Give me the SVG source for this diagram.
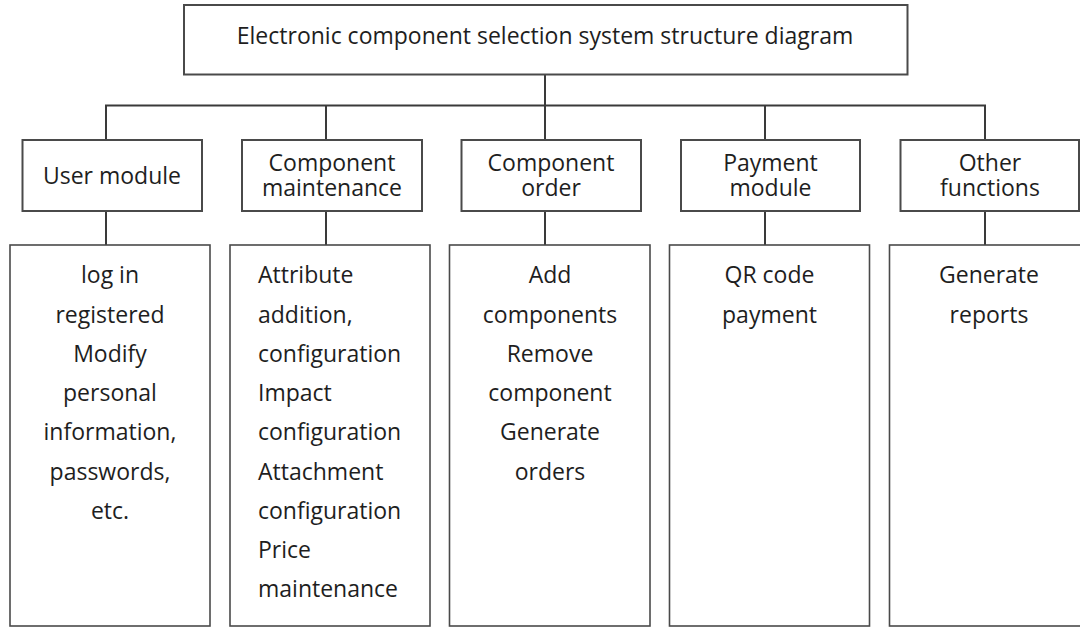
<svg xmlns="http://www.w3.org/2000/svg" width="1080" height="627" viewBox="0 0 1080 627">
<style>
.box{fill:#fff;stroke:#4a4a4a;stroke-width:2}
.sub{fill:#fff;stroke:#4a4a4a;stroke-width:1.6}
.con{fill:none;stroke:#3a3a3a;stroke-width:2}
text{font-family:"Open Sans","Noto Sans","Liberation Sans",sans-serif;fill:#1e1e1e}
.t{font-size:23px;text-anchor:middle}
.h{font-size:23px;text-anchor:middle}
.b{font-size:23px;text-anchor:middle}
.bl{font-size:23px;text-anchor:start}
</style>
<rect width="1080" height="627" fill="#fff"/>
<g id="connectors">
<path class="con" d="M545,75 V105.5 M106,140 V105.5 H985 V140 M326,105.5 V140 M545,105.5 V140 M765,105.5 V140"/>
<path class="con" d="M106,211 V245 M326,211 V245 M545,211 V245 M765,211 V245 M985,211 V245"/>
</g>
<g id="root">
<rect class="box" x="184" y="5" width="723.5" height="69.5"/>
<text class="t" x="545" y="44">Electronic component selection system structure diagram</text>
</g>
<g id="user-module">
<rect class="box" x="22.5" y="140" width="179.5" height="71"/>
<text class="h" x="112" y="184">User module</text>
</g>
<g id="component-maintenance">
<rect class="box" x="242" y="140" width="180" height="71"/>
<text class="h" x="332" y="171">Component</text>
<text class="h" x="332" y="196">maintenance</text>
</g>
<g id="component-order">
<rect class="box" x="461.5" y="140" width="179.5" height="71"/>
<text class="h" x="551" y="171">Component</text>
<text class="h" x="551" y="196">order</text>
</g>
<g id="payment-module">
<rect class="box" x="681" y="140" width="179" height="71"/>
<text class="h" x="770.5" y="171">Payment</text>
<text class="h" x="770.5" y="196">module</text>
</g>
<g id="other-functions">
<rect class="box" x="900.5" y="140" width="178.5" height="71"/>
<text class="h" x="990" y="171">Other</text>
<text class="h" x="990" y="196">functions</text>
</g>
<g id="user-details">
<rect class="sub" x="10" y="245" width="200" height="381"/>
<text class="b" x="110" y="283">log in</text>
<text class="b" x="110" y="322.5">registered</text>
<text class="b" x="110" y="361.5">Modify</text>
<text class="b" x="110" y="401">personal</text>
<text class="b" x="110" y="440">information,</text>
<text class="b" x="110" y="479.5">passwords,</text>
<text class="b" x="110" y="518.5">etc.</text>
</g>
<g id="maintenance-details">
<rect class="sub" x="230" y="245" width="200" height="381"/>
<text class="bl" x="258" y="283">Attribute</text>
<text class="bl" x="258" y="322.5">addition,</text>
<text class="bl" x="258" y="361.5">configuration</text>
<text class="bl" x="258" y="401">Impact</text>
<text class="bl" x="258" y="440">configuration</text>
<text class="bl" x="258" y="479.5">Attachment</text>
<text class="bl" x="258" y="518.5">configuration</text>
<text class="bl" x="258" y="558">Price</text>
<text class="bl" x="258" y="597">maintenance</text>
</g>
<g id="order-details">
<rect class="sub" x="449.5" y="245" width="200.5" height="381"/>
<text class="b" x="550" y="283">Add</text>
<text class="b" x="550" y="322.5">components</text>
<text class="b" x="550" y="361.5">Remove</text>
<text class="b" x="550" y="401">component</text>
<text class="b" x="550" y="440">Generate</text>
<text class="b" x="550" y="479.5">orders</text>
</g>
<g id="payment-details">
<rect class="sub" x="669.5" y="245" width="200" height="381"/>
<text class="b" x="769.5" y="283">QR code</text>
<text class="b" x="769.5" y="322.5">payment</text>
</g>
<g id="other-details">
<rect class="sub" x="889.5" y="245" width="200" height="381"/>
<text class="b" x="989" y="283">Generate</text>
<text class="b" x="989" y="322.5">reports</text>
</g>
</svg>
